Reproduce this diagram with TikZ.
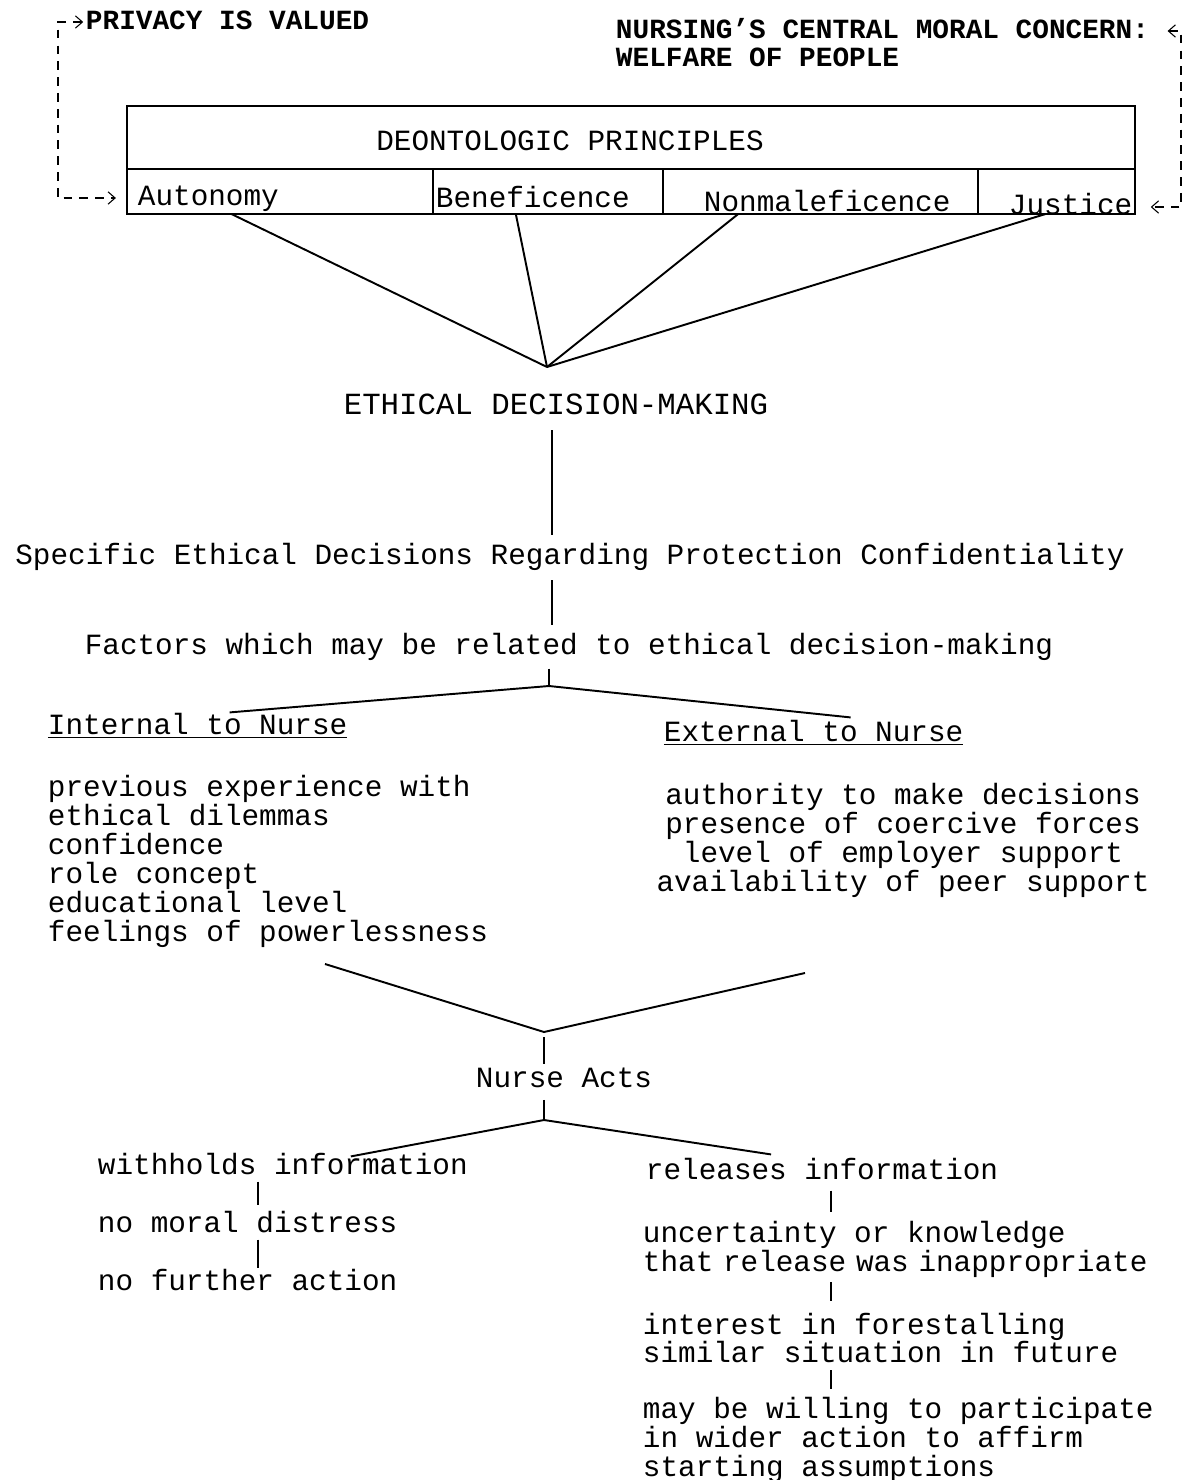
\documentclass[tikz,border=0pt]{standalone}
\usepackage{fontspec}
\setmainfont{Liberation Mono}
\usetikzlibrary{positioning,calc,arrows.meta}

\tikzset{
  txt/.style={inner sep=0pt, text height=12pt, text depth=3.5pt},
  blk/.style={inner sep=0pt, align=left},
  hdr/.style={txt, font=\fontsize{15.8pt}{15pt}\selectfont\bfseries},
  fb/.style={line width=0.6pt, dash pattern=on 5pt off 4pt,
    >={Straight Barb[length=4pt,width=7pt]}, <->},
  tick/.style={line width=0.8pt},
}

\begin{document}
\begin{tikzpicture}[x=0.02cm, y=-0.02cm, line width=1.1pt, font=\fontsize{16.7pt}{16.5pt}\selectfont]
  \useasboundingbox (0,0) rectangle (1187,1480);

  % Values on top
  \node[hdr, anchor=west] (priv) at (85,22) {PRIVACY IS VALUED};
  \node[hdr, anchor=west] (conc) at (615,31) {NURSING'S CENTRAL MORAL CONCERN:};
  \node[hdr, below right=-0.5pt and 0pt of conc.south west] (welf) {WELFARE OF PEOPLE};

  % Principles box
  \draw (127,106) rectangle (1135,214);
  \draw (127,169) -- (1135,169);
  \foreach \x in {433,663,978} {
    \draw (\x,169) -- (\x,214);
  }
  \node[txt] (deon) at (570,143) {DEONTOLOGIC PRINCIPLES};
  \node[txt, anchor=west] (aut) at (137,198) {Autonomy};
  \node[txt, anchor=west] (ben) at (435,200) {Beneficence};
  \node[txt, anchor=west] (non) at (703,204) {Nonmaleficence};
  \node[txt, anchor=west] (jus) at (1008,207) {Justice};

  % Feedback arrows
  \coordinate (ltop) at (58,22);
  \coordinate (lbot) at (58,198);
  \coordinate (rtop) at (1181,31);
  \coordinate (rbot) at (1181,207);
  \draw[fb, shorten <=1pt, shorten >=12pt] (priv.west) -- (ltop) -- (lbot) -- (aut.west);
  \draw[fb, shorten <=10pt, shorten >=10pt] (conc.east) -- (rtop) -- (rbot) -- (jus.east);

  % Principles into decision-making
  \coordinate (boxbot) at (0,214);
  \coordinate (apex) at (547,367);
  \foreach \n/\dx in {aut/23, ben/-17, non/-89, jus/-25} {
    \draw (\n.south |- boxbot) ++(\dx,0) -- (apex);
  }

  % Main column
  \coordinate (spine) at (552,0);
  \node[txt, font=\fontsize{17.5pt}{17pt}\selectfont] (eth) at (556,407) {ETHICAL DECISION-MAKING};
  \node[txt] (spec) at (570,557) {Specific Ethical Decisions Regarding Protection Confidentiality};
  \node[txt] (fac) at (569,647) {Factors which may be related to ethical decision-making};
  \draw[tick, shorten <=5pt, shorten >=4.5pt] (eth.south -| spine) -- (spec.north -| spine);
  \draw[tick, shorten <=5pt, shorten >=4.5pt] (spec.south -| spine) -- (fac.north -| spine);

  % Internal and external factors
  \coordinate (fork1) at (549,686);
  \node[txt, anchor=west] (inth) at (47,727) {\underline{Internal to Nurse}};
  \node[txt, anchor=west] (exth) at (663,734) {\underline{External to Nurse}};
  \draw[tick, shorten <=4pt] (fac.south -| fork1) -- (fork1);
  \draw ($(inth.north)+(32,0)$) -- (fork1) -- ($(exth.north)+(37,-2)$);

  \node[blk, anchor=west] (intl) at (47,861) {previous experience with\\ethical dilemmas\\confidence\\role concept\\educational level\\feelings of powerlessness};
  \node[blk, align=center] (extl) at (903,840) {authority to make decisions\\presence of coercive forces\\level of employer support\\availability of peer support};

  % Nurse acts
  \coordinate (vl) at (325,964);
  \coordinate (vr) at (805,973);
  \coordinate (vee) at (544,1032);
  \draw (vl) -- (vee) -- (vr);
  \node[txt] (nurse) at (564,1080) {Nurse Acts};
  \draw[tick, shorten <=1pt, shorten >=3pt] (nurse.north -| vee) -- (vee);

  \coordinate (fork2) at (544,1120);
  \draw[tick, shorten <=3pt] (nurse.south -| fork2) -- (fork2);
  \node[txt, anchor=west] (wh) at (97,1167) {withholds information};
  \node[txt, anchor=west] (rel) at (645,1172) {releases information};
  \draw ($(wh.north)+(68,4)$) -- (fork2) -- ($(rel.north)+(-51,-3)$);

  % Withholding branch
  \coordinate (lspine) at (258,0);
  \node[txt, anchor=west] (nmd) at (97,1225) {no moral distress};
  \node[txt, anchor=west] (nfa) at (97,1283) {no further action};
  \draw[tick, shorten >=3pt] (wh.south -| lspine) -- (nmd.north -| lspine);
  \draw[tick] (nmd.south -| lspine) -- (nfa.north -| lspine);

  % Releasing branch
  \coordinate (rspine) at (831,0);
  \node[blk, anchor=west] (unc) at (642,1249) {uncertainty or knowledge\\that\kern-4.5pt{} release\kern-4.5pt{} was\kern-4.5pt{} inappropriate};
  \node[blk, anchor=west] (fore) at (642,1338) {interest in forestalling\\similar situation in future};
  \node[blk, anchor=west] (will) at (642,1440) {may be willing to participate\\in wider action to affirm\\starting assumptions};
  \draw[tick, shorten <=2.3pt, shorten >=4.3pt] (rel.south -| rspine) -- (unc.north -| rspine);
  \draw[tick, shorten <=2.3pt, shorten >=6pt] (unc.south -| rspine) -- (fore.north -| rspine);
  \draw[tick, shorten <=3.4pt, shorten >=4.3pt] (fore.south -| rspine) -- (will.north -| rspine);

\end{tikzpicture}
\end{document}
